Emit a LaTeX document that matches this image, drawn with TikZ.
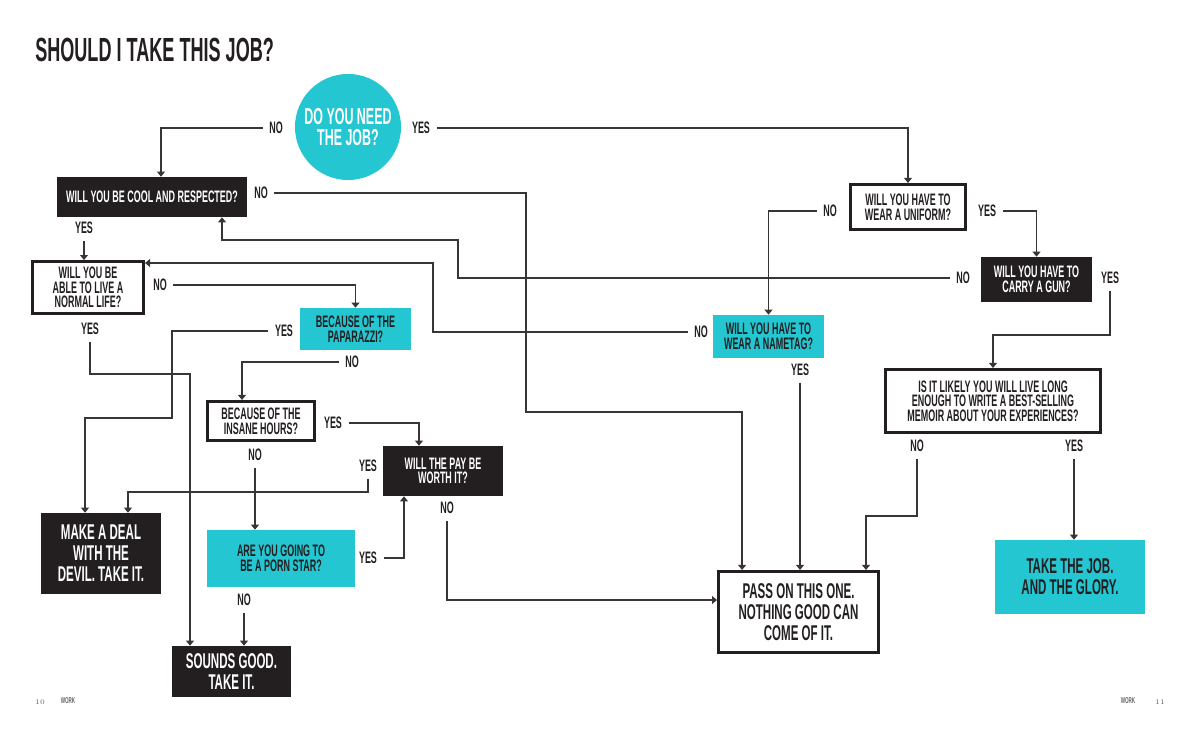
\documentclass[tikz,border=0pt]{standalone}
\usepackage{fontspec}
\usepackage{tikz}
\usetikzlibrary{calc,arrows.meta}
\newfontfamily\bebas[FakeStretch=0.54]{Liberation Sans}
\definecolor{ink}{HTML}{231F20}
\definecolor{aqua}{HTML}{24C6D2}
\newcommand\qfont{\bebas\bfseries\fontsize{11.8}{10.4}\selectfont}
\newcommand\verdictfont{\bebas\bfseries\fontsize{15.2}{15}\selectfont}
\tikzset{
  q/.style={font=\qfont,align=center,inner sep=0pt,text=ink},
  qdark/.style={q,fill=ink,text=white},
  qline/.style={q,draw=ink,line width=2pt,fill=white},
  qaqua/.style={q,fill=aqua},
  ans/.style={font=\qfont,text=ink,inner sep=0.16cm},
  arr/.style={draw=ink!90,line width=1.3pt,-{Triangle[length=3.6pt,width=5.6pt]}},
  foot/.style={text=ink!70,inner sep=0pt}
}
\begin{document}
\begin{tikzpicture}[x=0.025cm,y=-0.025cm]
  \useasboundingbox (0,0) rectangle (1200,741);
  \node[anchor=base west,font=\bebas\bfseries\fontsize{23.8}{24}\selectfont,text=ink,inner sep=0pt] (title) at (35,62) {SHOULD I TAKE THIS JOB?};
  \node[circle,fill=aqua,minimum size=2.65cm,inner sep=0pt,align=center,text=white,font=\bebas\bfseries\fontsize{16.4}{14.9}\selectfont] (need) at (348,127) {DO YOU NEED\\THE JOB?};
  \node[qdark,minimum width=4.75cm,minimum height=1cm] (cool) at (152,197) {WILL YOU BE COOL AND RESPECTED?};
  \node[qline,minimum width=2.78cm,minimum height=1.3cm] (normal) at (88,287.5) {WILL YOU BE\\ABLE TO LIVE A\\NORMAL LIFE?};
  \node[qaqua,minimum width=2.775cm,minimum height=1.05cm] (papa) at (355.5,329) {BECAUSE OF THE\\PAPARAZZI?};
  \node[qline,minimum width=2.68cm,minimum height=0.98cm] (hours) at (261,421) {BECAUSE OF THE\\INSANE HOURS?};
  \node[qdark,minimum width=3cm,minimum height=1.25cm] (pay) at (443,471) {WILL THE PAY BE\\WORTH IT?};
  \node[qaqua,minimum width=3.7cm,minimum height=1.425cm] (porn) at (281,558.5) {ARE YOU GOING TO\\BE A PORN STAR?};
  \node[qdark,font=\verdictfont,minimum width=3cm,minimum height=2.025cm] (deal) at (101,553.5) {MAKE A DEAL\\WITH THE\\DEVIL. TAKE IT.};
  \node[qdark,font=\verdictfont,minimum width=2.975cm,minimum height=1.275cm] (good) at (231.5,671.5) {SOUNDS GOOD.\\TAKE IT.};
  \node[qline,font=\verdictfont,minimum width=4cm,minimum height=2.03cm] (pass) at (798.5,612) {PASS ON THIS ONE.\\NOTHING GOOD CAN\\COME OF IT.};
  \node[qline,minimum width=2.88cm,minimum height=1.13cm] (uniform) at (908,207) {WILL YOU HAVE TO\\WEAR A UNIFORM?};
  \node[qdark,minimum width=2.775cm,minimum height=1.125cm] (gun) at (1036.5,279.5) {WILL YOU HAVE TO\\CARRY A GUN?};
  \node[qaqua,minimum width=2.775cm,minimum height=1.075cm] (nametag) at (768.5,336.5) {WILL YOU HAVE TO\\WEAR A NAMETAG?};
  \node[qline,minimum width=5.38cm,minimum height=1.58cm] (memoir) at (993,401) {IS IT LIKELY YOU WILL LIVE LONG\\ENOUGH TO WRITE A BEST-SELLING\\MEMOIR ABOUT YOUR EXPERIENCES?};
  \node[qaqua,font=\verdictfont,minimum width=3.75cm,minimum height=1.85cm] (glory) at (1070,577) {TAKE THE JOB.\\AND THE GLORY.};

  \node[ans] (needno) at (276,128) {NO};
  \node[ans] (needyes) at (421,128) {YES};
  \node[ans] (coolno) at (261,193) {NO};
  \node[ans] (coolyes) at (84,228) {YES};
  \node[ans] (normalno) at (160,285) {NO};
  \node[ans] (normalyes) at (90,329) {YES};
  \node[ans] (papayes) at (284,331) {YES};
  \node[ans] (papano) at (352,362) {NO};
  \node[ans] (hoursyes) at (333,423) {YES};
  \node[ans] (hoursno) at (255,455) {NO};
  \node[ans] (payyes) at (368,466) {YES};
  \node[ans] (payno) at (447,508) {NO};
  \node[ans] (pornyes) at (368,558) {YES};
  \node[ans] (pornno) at (244,600) {NO};
  \node[ans] (uniformno) at (830,211) {NO};
  \node[ans] (uniformyes) at (987,211) {YES};
  \node[ans] (gunno) at (963,278) {NO};
  \node[ans] (gunyes) at (1110,278) {YES};
  \node[ans] (nametagno) at (701,332) {NO};
  \node[ans] (nametagyes) at (800,370) {YES};
  \node[ans] (memoirno) at (917,446) {NO};
  \node[ans] (memoiryes) at (1074,446) {YES};

  \coordinate (k1) at (526,412);
  \coordinate (k2) at (190,374);
  \coordinate (k3) at (172,418);
  \coordinate (k4) at (128,492);
  \coordinate (k5) at (458,240);
  \coordinate (k6) at (1110,335);
  \coordinate (k7) at (433,263);
  \coordinate (k8) at (866,516);

  \draw[arr] (needno) -| ([xshift=0.225cm]cool.north);
  \draw[arr] (needyes) -| (uniform);
  \draw[arr] (coolno) -| (k1) -| ([xshift=-1.41cm]pass.north);
  \draw[arr] (coolyes) -- (coolyes |- normal.north);
  \draw[arr] (normalno) -| (papa);
  \draw[arr] (normalyes) |- (k2) -- (k2 |- good.north);
  \draw[arr] (papayes) -| (k3) -| ([xshift=-0.4cm]deal.north);
  \draw[arr] (papano) -| ([xshift=-0.475cm]hours.north);
  \draw[arr] (hoursyes) -| ([xshift=-0.6cm]pay.north);
  \draw[arr] (hoursno) -- (hoursno |- porn.north);
  \draw[arr] (payyes) |- (k4) -- (k4 |- deal.north);
  \draw[arr] (payno) |- ([yshift=0.3cm]pass.west);
  \draw[arr] (pornyes) -| ([xshift=-0.975cm]pay.south);
  \draw[arr] (pornno) -- (pornno |- good.north);
  \draw[arr] (uniformno) -| (nametag);
  \draw[arr] (uniformyes) -| (gun);
  \draw[arr] (gunno) -| (k5) -| ([xshift=1.75cm]cool.south);
  \draw[arr] (gunyes) -- (k6) -| (memoir);
  \draw[arr] (nametagno) -| (k7) -- (k7 -| normal.east);
  \draw[arr] (nametagyes) -- (nametagyes |- pass.north);
  \draw[arr] (memoirno) |- (k8) -- (k8 |- pass.north);
  \draw[arr] (memoiryes) -- (memoiryes |- glory.north);

  \node[foot,font=\fontsize{5}{6}\selectfont] (pl) at (40,702) {10};
  \node[foot,font=\bebas\bfseries\fontsize{6}{6}\selectfont] (wl) at (68,701) {WORK};
  \node[foot,font=\bebas\bfseries\fontsize{6}{6}\selectfont] (wr) at (1128,701) {WORK};
  \node[foot,font=\fontsize{5}{6}\selectfont] (pr) at (1160,702) {11};
\end{tikzpicture}
\end{document}
